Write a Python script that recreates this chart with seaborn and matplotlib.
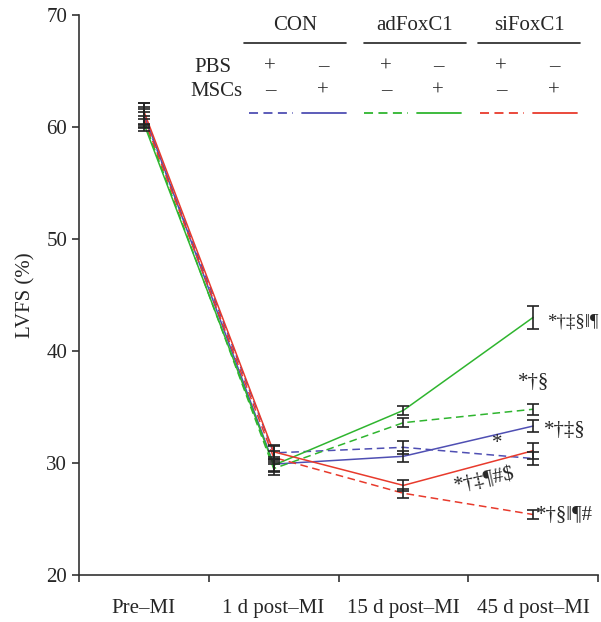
import matplotlib
matplotlib.use("Agg")
import matplotlib.pyplot as plt
import seaborn as sns
import pandas as pd
import numpy as np
from matplotlib.lines import Line2D

sns.set_theme(style="ticks")
plt.rcParams['font.family'] = ['Liberation Serif', 'DejaVu Serif']

timepoints = ["Pre\u2013MI", "1 d post\u2013MI", "15 d post\u2013MI", "45 d post\u2013MI"]

con_pbs = [61.0, 30.9, 31.4, 30.4]
con_pbs_err = [0.8, 0.6, 0.6, 0.6]
con_msc = [61.2, 29.9, 30.6, 33.3]
con_msc_err = [0.9, 0.6, 0.5, 0.5]
ad_pbs = [60.6, 29.5, 33.6, 34.8]
ad_pbs_err = [0.7, 0.6, 0.4, 0.5]
ad_msc = [60.3, 29.8, 34.7, 43.0]
ad_msc_err = [0.7, 0.6, 0.4, 1.0]
si_pbs = [60.8, 30.5, 27.3, 25.4]
si_pbs_err = [0.8, 0.6, 0.4, 0.4]
si_msc = [61.4, 31.0, 28.0, 31.1]
si_msc_err = [0.7, 0.6, 0.5, 0.7]

groups = ["CON", "adFoxC1", "siFoxC1"]
pbs_signs = ["+", "\u2013", "+", "\u2013", "+", "\u2013"]
msc_signs = ["\u2013", "+", "\u2013", "+", "\u2013", "+"]

annotations = ["*\u2020\u2021\u00a7\u2016\u00b6", "*\u2020\u00a7", "*\u2020\u2021\u00a7", "*",
               "*\u2020\u2021\u00b6#$", "*\u2020\u00a7\u2016\u00b6#"]

blue = "#4f4fb3"
green = "#2fb52f"
red = "#e83a2c"

series = [
    ("CON PBS", con_pbs, con_pbs_err, blue, (0, (5, 3))),
    ("CON MSCs", con_msc, con_msc_err, blue, "-"),
    ("adFoxC1 PBS", ad_pbs, ad_pbs_err, green, (0, (5, 3))),
    ("adFoxC1 MSCs", ad_msc, ad_msc_err, green, "-"),
    ("siFoxC1 PBS", si_pbs, si_pbs_err, red, (0, (5, 3))),
    ("siFoxC1 MSCs", si_msc, si_msc_err, red, "-"),
]

FS = 15

fig = plt.figure(figsize=(6.01, 6.22), dpi=100)
ax = fig.add_axes([79/601, 1-575/622, (598-79)/601, (575-15)/622])

xpos = np.arange(len(timepoints))
for name, vals, errs, col, ls in series:
    df = pd.DataFrame({"x": xpos, "y": vals})
    sns.lineplot(data=df, x="x", y="y", ax=ax, color=col, linewidth=1.1,
                 linestyle=ls, zorder=3)
    ax.errorbar(xpos, vals, yerr=errs, fmt="none", ecolor="#222222",
                elinewidth=1.2, capsize=4, capthick=1.2, zorder=4)

ax.set_xlim(-0.5, 3.5)
ax.set_ylim(20, 70)
ax.set_yticks([20, 30, 40, 50, 60, 70])
ax.set_xticks([-0.5, 0.5, 1.5, 2.5, 3.5])
ax.set_xticklabels([])
ax.set_xticks(xpos, minor=True)
ax.set_xticklabels(timepoints, minor=True, fontsize=FS)
ax.tick_params(axis="x", which="minor", length=0, pad=17)
ax.tick_params(axis="x", which="major", length=5, width=1.2, color="#333333", direction="out")
ax.tick_params(axis="y", length=5, width=1.2, color="#333333", labelsize=FS, direction="out")
for s in ["top", "right"]:
    ax.spines[s].set_visible(False)
for s in ["left", "bottom"]:
    ax.spines[s].set_linewidth(1.2)
    ax.spines[s].set_color("#333333")
ax.set_xlabel("")
ax.set_ylabel("LVFS (%)", fontsize=FS, labelpad=8)

# annotations near 45 d points
ax.text(3.11, 42.6, annotations[0], fontsize=13.5, va="center", ha="left")
ax.text(3.0, 37.2, annotations[1], fontsize=FS, va="center", ha="center")
ax.text(3.08, 32.9, annotations[2], fontsize=FS, va="center", ha="left")
ax.text(2.72, 31.7, annotations[3], fontsize=FS, va="center", ha="center")
ax.text(2.38, 28.5, annotations[4], fontsize=FS, va="center", ha="left", rotation=12)
ax.text(3.02, 25.3, annotations[5], fontsize=FS, va="center", ha="left")

# legend header
def fx(px):
    return px / 601
def fy(py):
    return 1 - py / 622

centers = [295, 415, 529]
for g, c in zip(groups, centers):
    fig.text(fx(c), fy(26), g, fontsize=FS, ha="center", va="center")
    fig.add_artist(Line2D([fx(c - 51), fx(c + 51)], [fy(43), fy(43)], color="#222222", lw=1.2))
fig.text(fx(213), fy(67), "PBS", fontsize=FS, ha="center", va="center")
fig.text(fx(216), fy(91), "MSCs", fontsize=FS, ha="center", va="center")
cols_x = [270, 323, 386, 438, 501, 554]
for cx, p, m in zip(cols_x, pbs_signs, msc_signs):
    fig.text(fx(cx), fy(67), p, fontsize=FS, ha="center", va="center")
    fig.text(fx(cx), fy(91), m, fontsize=FS, ha="center", va="center")
seg_x = [(249, 293), (302, 346), (364, 408), (417, 461), (480, 524), (533, 577)]
for (x0, x1), (_, _, _, col, ls) in zip(seg_x, series):
    fig.add_artist(Line2D([fx(x0), fx(x1)], [fy(113), fy(113)], color=col, lw=1.3, linestyle=ls))

fig.savefig("out.png", dpi=100)
